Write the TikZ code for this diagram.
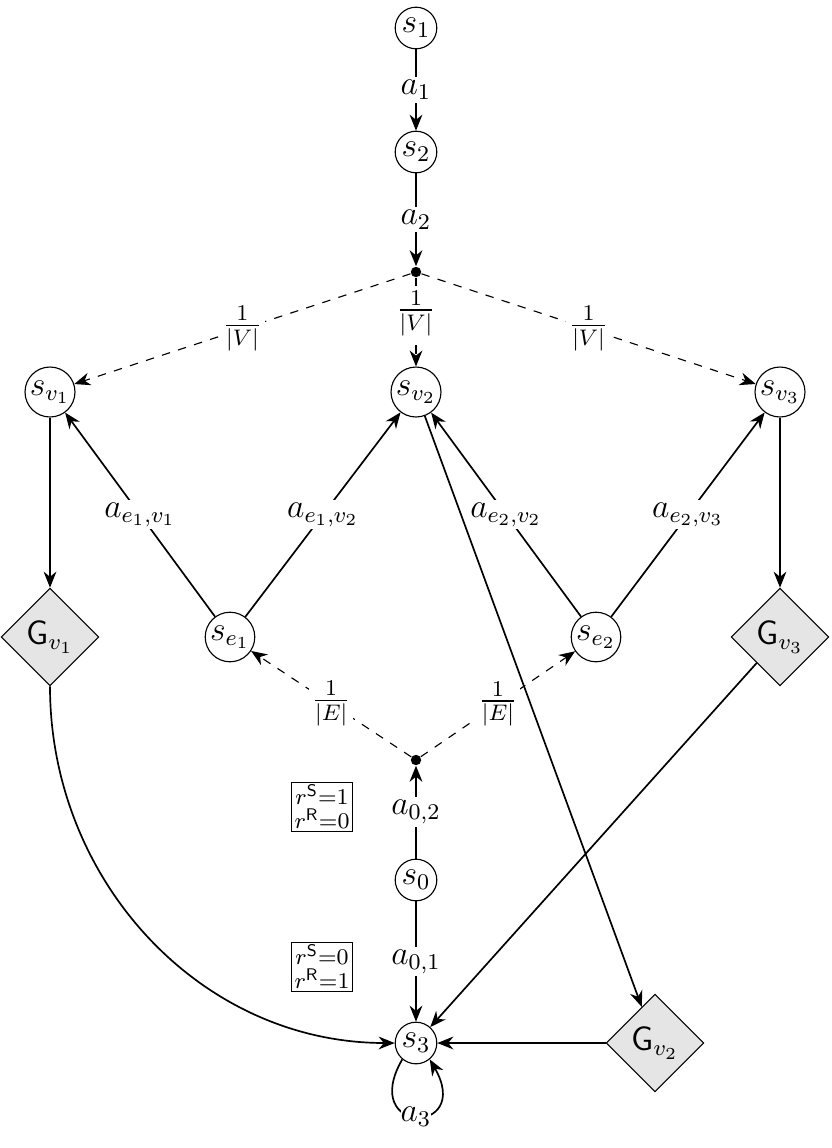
\documentclass[tikz,border=0pt]{standalone}
\usepackage{amsmath}
\usetikzlibrary{shapes.geometric,arrows.meta}
\tikzset{
  st/.style={circle,draw,minimum size=0.52cm,inner sep=0.5pt,font=\large},
  gad/.style={diamond,draw,fill=gray!20,minimum size=1.22cm,inner sep=0pt,font=\large\sffamily},
  pt/.style={circle,fill=black,inner sep=0pt,minimum size=1.3mm},
  rwd/.style={draw,inner sep=1pt,align=center,font=\footnotesize,line width=0.5pt},
  lab/.style={fill=white,inner sep=1pt,font=\large},
  ar/.style={-{Stealth[length=2mm,width=1.6mm]},semithick},
  dar/.style={ar,dashed,thin}
}
\begin{document}
\begin{tikzpicture}[x=0.0125cm,y=-0.0125cm]
\useasboundingbox (0,0) rectangle (832,1148);

\node[st] (s1) at (416,28) {$s_1$};
\node[st] (s2) at (416,152) {$s_2$};
\node[pt] (c1) at (416,272) {};
\node[st] (sv1) at (50,392) {$s_{v_1}$};
\node[st] (sv2) at (416,392) {$s_{v_2}$};
\node[st] (sv3) at (780,392) {$s_{v_3}$};
\node[st] (se1) at (230,637) {$s_{e_1}$};
\node[st] (se2) at (596,637) {$s_{e_2}$};
\node[gad] (g1) at (50,637) {G$_{v_1}$};
\node[gad] (g3) at (780,637) {G$_{v_3}$};
\node[gad] (g2) at (655,1043) {G$_{v_2}$};
\node[pt] (c2) at (416,760) {};
\node[st] (s0) at (416,880) {$s_0$};
\node[st] (s3) at (416,1043) {$s_3$};
\node[rwd] (r2) at (322,807) {$r^{\mathsf S}{=}1$\\[-1pt]$r^{\mathsf R}{=}0$};
\node[rwd] (r1) at (322,967) {$r^{\mathsf S}{=}0$\\[-1pt]$r^{\mathsf R}{=}1$};

% top chain
\draw[ar] (s1) -- node[lab] {$a_1$} (s2);
\draw[ar] (s2) -- node[lab] {$a_2$} (c1);
\draw[dar] (c1) -- node[lab] {$\frac{1}{|V|}$} (sv1);
\draw[dar] (c1) -- node[lab,pos=0.4] {$\frac{1}{|V|}$} (sv2);
\draw[dar] (c1) -- node[lab] {$\frac{1}{|V|}$} (sv3);

% edges to vertices
\draw[ar] (se1) -- node[lab] {$a_{e_1,v_1}$} (sv1);
\draw[ar] (se1) -- node[lab] {$a_{e_1,v_2}$} (sv2);
\draw[ar] (se2) -- node[lab] {$a_{e_2,v_2}$} (sv2);
\draw[ar] (se2) -- node[lab] {$a_{e_2,v_3}$} (sv3);

% gadgets
\draw[ar] (sv1) -- (g1);
\draw[ar] (sv3) -- (g3);
\draw[ar] (sv2) -- (g2);
\draw[ar] (g1.south) to[out=-90,in=180] (s3);
\draw[ar] (g3) -- (s3);
\draw[ar] (g2) -- (s3);

% bottom
\draw[dar] (c2) -- node[lab] {$\frac{1}{|E|}$} (se1);
\draw[dar] (c2) -- node[lab] {$\frac{1}{|E|}$} (se2);
\draw[ar] (s0) -- node[lab] {$a_{0,2}$} (c2);
\draw[ar] (s0) -- node[lab] {$a_{0,1}$} (s3);
\draw[ar] (s3.-130) to[out=-120,in=-60,distance=1.1cm] node[lab,inner sep=0pt] {$a_3$} (s3.-50);
\end{tikzpicture}
\end{document}
